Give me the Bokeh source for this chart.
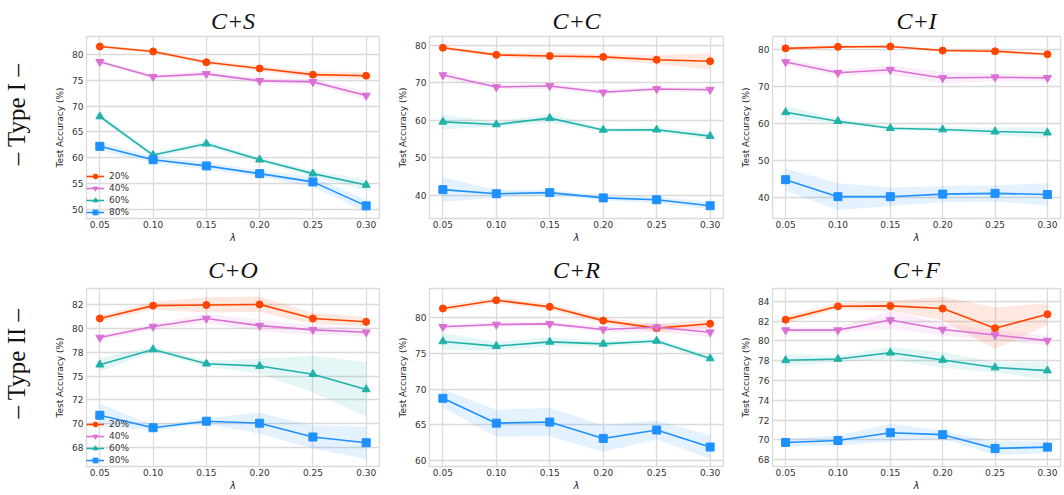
import math
from bokeh.plotting import figure
from bokeh.models import FixedTicker, Range1d, Legend, LegendItem, Title, Label
from bokeh.layouts import column, row
from bokeh.embed import file_html
from bokeh.resources import INLINE

# ---------------- data ----------------
lambdas = [0.05, 0.10, 0.15, 0.20, 0.25, 0.30]
x_tick_labels = ["0.05", "0.10", "0.15", "0.20", "0.25", "0.30"]
series_labels = ["20%", "40%", "60%", "80%"]
panel_titles = ["C+S", "C+C", "C+I", "C+O", "C+R", "C+F"]
row_labels = ["\u2013 Type I \u2013", "\u2013 Type II \u2013"]

# C+S
cs_20 = [81.55, 80.6, 78.5, 77.3, 76.1, 75.9]
cs_40 = [78.6, 75.7, 76.25, 74.9, 74.7, 72.05]
cs_60 = [67.98, 60.5, 62.7, 59.6, 56.9, 54.7]
cs_80 = [62.2, 59.6, 58.4, 56.9, 55.3, 50.65]
cs_20_sd = [0.3, 0.3, 0.4, 0.5, 0.6, 0.7]
cs_40_sd = [0.4, 0.4, 0.6, 0.5, 0.6, 0.8]
cs_60_sd = [0.6, 0.5, 0.6, 0.5, 0.6, 1.0]
cs_80_sd = [0.9, 0.6, 0.7, 0.6, 1.0, 1.2]
cs_yticks = [50, 55, 60, 65, 70, 75, 80]

# C+C
cc_20 = [79.4, 77.5, 77.2, 76.95, 76.2, 75.8]
cc_40 = [72.1, 68.9, 69.2, 67.5, 68.4, 68.2]
cc_60 = [59.6, 58.9, 60.6, 57.45, 57.5, 55.8]
cc_80 = [41.5, 40.4, 40.7, 39.3, 38.8, 37.2]
cc_20_sd = [0.5, 0.5, 1.0, 0.7, 1.2, 2.2]
cc_40_sd = [1.0, 0.5, 0.8, 0.6, 0.6, 0.7]
cc_60_sd = [2.0, 0.6, 1.2, 0.5, 0.6, 1.0]
cc_80_sd = [3.3, 1.0, 0.8, 0.6, 0.9, 1.0]
cc_yticks = [40, 50, 60, 70, 80]

# C+I
ci_20 = [80.2, 80.6, 80.7, 79.6, 79.4, 78.6]
ci_40 = [76.5, 73.6, 74.4, 72.2, 72.4, 72.2]
ci_60 = [62.9, 60.5, 58.6, 58.25, 57.7, 57.4]
ci_80 = [44.7, 40.1, 40.1, 40.8, 41.0, 40.7]
ci_20_sd = [0.3, 0.3, 0.3, 0.4, 0.4, 0.4]
ci_40_sd = [1.0, 0.9, 1.2, 1.6, 1.0, 0.8]
ci_60_sd = [1.7, 0.7, 0.5, 0.6, 1.0, 1.5]
ci_80_sd = [3.0, 3.6, 2.5, 2.2, 2.2, 3.0]
ci_yticks = [40, 50, 60, 70, 80]

# C+O
co_20 = [81.05, 82.4, 82.47, 82.53, 81.05, 80.7]
co_40 = [79.05, 80.2, 81.05, 80.3, 79.85, 79.6]
co_60 = [76.2, 77.8, 76.3, 76.05, 75.2, 73.6]
co_80 = [70.88, 69.57, 70.26, 70.05, 68.6, 68.0]
co_20_sd = [0.3, 0.4, 0.8, 0.8, 0.6, 0.5]
co_40_sd = [0.3, 0.3, 0.5, 0.6, 0.5, 0.4]
co_60_sd = [0.7, 0.3, 0.3, 0.8, 1.9, 2.85]
co_80_sd = [1.2, 0.3, 0.3, 1.1, 1.2, 1.7]
co_yticks = [67.5, 70, 72.5, 75, 77.5, 80, 82.5]
co_ytick_labels = ["68", "70", "72", "75", "78", "80", "82"]

# C+R
cr_20 = [81.34, 82.5, 81.57, 79.63, 78.57, 79.2]
cr_40 = [78.76, 79.08, 79.17, 78.39, 78.7, 78.0]
cr_60 = [76.7, 76.04, 76.64, 76.36, 76.77, 74.3]
cr_80 = [68.7, 65.2, 65.35, 63.05, 64.24, 61.84]
cr_20_sd = [0.4, 0.4, 0.4, 0.4, 0.5, 0.6]
cr_40_sd = [0.4, 0.3, 0.3, 0.4, 0.7, 0.7]
cr_60_sd = [1.2, 0.6, 0.6, 0.4, 0.4, 0.4]
cr_80_sd = [1.3, 1.9, 2.0, 1.9, 1.3, 1.7]
cr_yticks = [60, 65, 70, 75, 80]

# C+F
cf_20 = [82.15, 83.5, 83.54, 83.27, 81.28, 82.7]
cf_40 = [81.09, 81.09, 82.11, 81.15, 80.6, 80.03]
cf_60 = [78.04, 78.17, 78.8, 78.07, 77.31, 77.0]
cf_80 = [69.73, 69.93, 70.72, 70.52, 69.13, 69.26]
cf_20_sd = [0.4, 0.3, 0.5, 1.2, 2.1, 1.1]
cf_40_sd = [0.3, 0.3, 0.9, 0.6, 0.5, 0.5]
cf_60_sd = [0.6, 0.3, 0.6, 0.8, 0.5, 0.9]
cf_80_sd = [0.4, 0.5, 0.9, 0.4, 0.7, 0.6]
cf_yticks = [68, 70, 72, 74, 76, 78, 80, 82, 84]

# ---------------- style ----------------
colors = ["#FF4500", "#DA70D6", "#20B2AA", "#1E90FF"]
markers = ["circle", "inverted_triangle", "triangle", "square"]
marker_sizes = [7, 8, 8, 8]
grid_color = "#dadada"
tick_color = "#333333"

panels = [
    dict(means=[cs_20, cs_40, cs_60, cs_80], sds=[cs_20_sd, cs_40_sd, cs_60_sd, cs_80_sd],
         yticks=cs_yticks, ylabels=None, yr=(48.2, 83.5)),
    dict(means=[cc_20, cc_40, cc_60, cc_80], sds=[cc_20_sd, cc_40_sd, cc_60_sd, cc_80_sd],
         yticks=cc_yticks, ylabels=None, yr=(33.8, 82.4)),
    dict(means=[ci_20, ci_40, ci_60, ci_80], sds=[ci_20_sd, ci_40_sd, ci_60_sd, ci_80_sd],
         yticks=ci_yticks, ylabels=None, yr=(34.2, 83.4)),
    dict(means=[co_20, co_40, co_60, co_80], sds=[co_20_sd, co_40_sd, co_60_sd, co_80_sd],
         yticks=co_yticks, ylabels=co_ytick_labels, yr=(65.5, 84.2)),
    dict(means=[cr_20, cr_40, cr_60, cr_80], sds=[cr_20_sd, cr_40_sd, cr_60_sd, cr_80_sd],
         yticks=cr_yticks, ylabels=None, yr=(59.1, 84.15)),
    dict(means=[cf_20, cf_40, cf_60, cf_80], sds=[cf_20_sd, cf_40_sd, cf_60_sd, cf_80_sd],
         yticks=cf_yticks, ylabels=None, yr=(67.3, 85.3)),
]

label_col_width = 40
col_widths = [355, 343, 324]
col_left = [46, 33, 33]
col_right = [16, 15, 2]
row_heights = [245, 248]
row_top = [36, 43]
row_bottom = [27, 25]
title_standoff = [6, 12]
# row-label position inside its narrow label strip (screen px from bottom-left)
row_label_x = 16
row_label_y = [104, 103]


def make_row_label(r):
    p = figure(width=label_col_width, height=row_heights[r],
               x_range=Range1d(0, 1), y_range=Range1d(0, 1),
               x_axis_location=None, y_axis_location=None,
               output_backend="svg", toolbar_location=None, min_border=0)
    p.outline_line_color = None
    p.grid.visible = False
    p.background_fill_color = "white"
    p.border_fill_color = "white"
    p.add_layout(Label(x=row_label_x, y=row_label_y[r], x_units="screen", y_units="screen",
                       text=row_labels[r], angle=math.pi / 2, text_align="center",
                       text_baseline="middle", text_font="Liberation Serif",
                       text_font_size="25px", text_color="#111111"))
    return p


def make_panel(i):
    r, c = divmod(i, 3)
    cfg = panels[i]
    p = figure(width=col_widths[c], height=row_heights[r],
               x_range=Range1d(0.0375, 0.3125), y_range=Range1d(*cfg["yr"]),
               output_backend="svg", toolbar_location=None,
               min_border_left=col_left[c], min_border_right=col_right[c],
               min_border_top=row_top[r], min_border_bottom=row_bottom[r])
    p.title = Title(text=panel_titles[i], align="center", text_font="Liberation Serif",
                    text_font_style="italic", text_font_size="24px", text_color="#111111",
                    standoff=title_standoff[r])
    p.background_fill_color = "white"
    p.border_fill_color = "white"
    p.outline_line_color = grid_color
    p.outline_line_width = 1.3

    p.xaxis.ticker = FixedTicker(ticks=lambdas)
    p.xaxis.major_label_overrides = dict(zip(lambdas, x_tick_labels))
    p.yaxis.ticker = FixedTicker(ticks=cfg["yticks"])
    if cfg["ylabels"] is not None:
        p.yaxis.major_label_overrides = dict(zip(cfg["yticks"], cfg["ylabels"]))

    for ax in (p.xaxis, p.yaxis):
        ax.axis_line_color = None
        ax.major_tick_line_color = None
        ax.minor_tick_line_color = None
        ax.major_tick_out = 0
        ax.major_tick_in = 0
        ax.major_label_text_font = "DejaVu Sans"
        ax.major_label_text_font_size = "9px"
        ax.major_label_text_color = tick_color
        ax.major_label_standoff = 3
        ax.axis_label_text_font = "DejaVu Sans"
        ax.axis_label_text_color = "#262626"
    p.yaxis.axis_label = "Test Accuracy (%)"
    p.yaxis.axis_label_text_font_size = "9px"
    p.yaxis.axis_label_text_font_style = "normal"
    p.yaxis.axis_label_standoff = 4
    p.xaxis.axis_label = "\u03bb"
    p.xaxis.axis_label_text_font_size = "10px"
    p.xaxis.axis_label_text_font_style = "italic"
    p.xaxis.axis_label_standoff = 1
    p.xaxis.major_label_standoff = 2

    p.xgrid.grid_line_color = grid_color
    p.ygrid.grid_line_color = grid_color
    p.xgrid.grid_line_width = 1.3
    p.ygrid.grid_line_width = 1.3

    items = []
    for k in range(4):
        m = cfg["means"][k]
        sd = cfg["sds"][k]
        lo = [a - b for a, b in zip(m, sd)]
        hi = [a + b for a, b in zip(m, sd)]
        p.varea(x=lambdas, y1=lo, y2=hi, fill_color=colors[k], fill_alpha=0.12)
    for k in range(4):
        m = cfg["means"][k]
        lr = p.line(lambdas, m, line_color=colors[k], line_width=1.6)
        sr = p.scatter(lambdas, m, marker=markers[k], size=marker_sizes[k],
                       fill_color=colors[k], line_color=colors[k])
        items.append(LegendItem(label=series_labels[k], renderers=[lr, sr]))

    if c == 0:
        leg = Legend(items=items, location="bottom_left", margin=0, padding=5,
                     spacing=0, glyph_width=18, glyph_height=12, label_height=12,
                     label_standoff=5, label_text_font="DejaVu Sans",
                     label_text_font_size="9px", label_text_color="#333333",
                     border_line_color=None, background_fill_alpha=0)
        p.add_layout(leg, "center")
    return p


figs = [make_panel(i) for i in range(6)]
layout = column(row(make_row_label(0), *figs[:3]),
                row(make_row_label(1), *figs[3:]))

open("out.html", "w").write(file_html(layout, INLINE))
